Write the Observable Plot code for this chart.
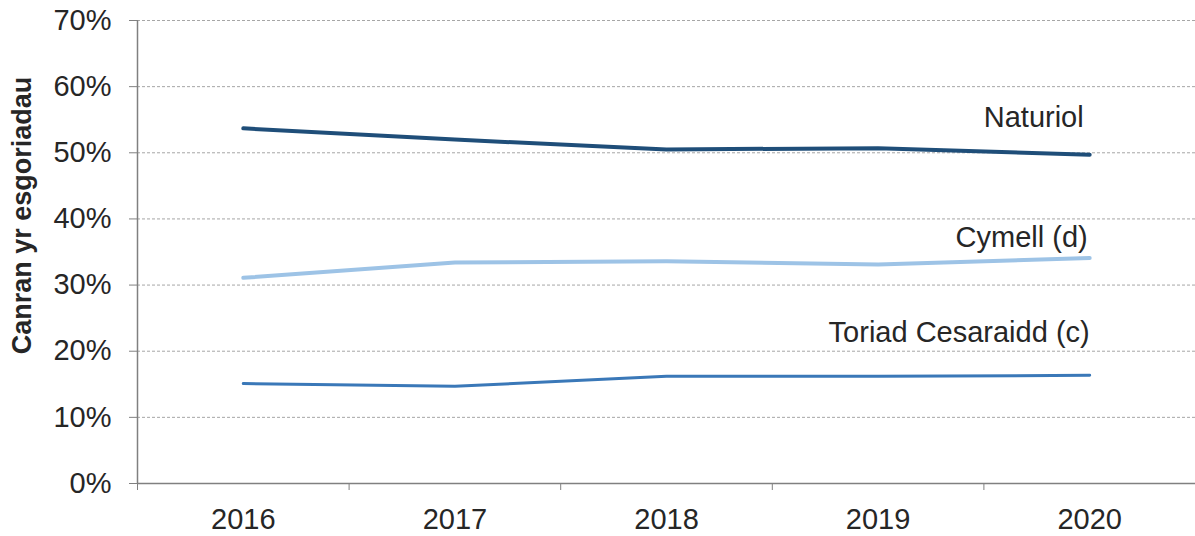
<!DOCTYPE html>
<html>
<head>
<meta charset="utf-8">
<script src="https://cdn.jsdelivr.net/npm/d3@7"></script>
<script src="https://cdn.jsdelivr.net/npm/@observablehq/plot@0.6"></script>
<style>
  html, body { margin: 0; padding: 0; background: #fff; }
  svg { display: block; }
</style>
</head>
<body>
<div id="chart"></div>
<script>
const years = [2016, 2017, 2018, 2019, 2020];
const naturiol = [53.7, 52.0, 50.5, 50.7, 49.7];
const cymell = [31.1, 33.4, 33.6, 33.1, 34.1];
const toriad = [15.1, 14.7, 16.2, 16.2, 16.35];
const seriesNames = ["Naturiol", "Cymell (d)", "Toriad Cesaraidd (c)"];
const yTicks = [0, 10, 20, 30, 40, 50, 60, 70];
const yLabel = "Canran yr esgoriadau";

const seriesValues = [naturiol, cymell, toriad];
const colors = ["#1f4e79", "#9dc3e6", "#3a78b8"];
const widths = [4, 4, 3];
const labelDy = [-37, -20, -43];
const labelDx = [-6, -2, 0];

const rows = seriesNames.flatMap((s, i) => years.map((yr, j) => ({series: s, year: yr, value: seriesValues[i][j]})));
const boundaries = [...years.map(y => y - 0.5), years[years.length - 1] + 0.5];

const marks = [
  Plot.gridY(yTicks.filter(d => d > 0), {stroke: "#a6a6a6", strokeOpacity: 1, strokeDasharray: "3,2", strokeWidth: 1}),
  Plot.axisY({ticks: yTicks, tickFormat: d => d + "%", tickSize: 8, tickPadding: 18, stroke: "#808080", label: null}),
  Plot.axisX({ticks: boundaries, tickFormat: () => "", tickSize: 7, stroke: "#808080", label: null}),
  Plot.axisX({ticks: years, tickFormat: d => String(d), tickSize: 0, tickPadding: 25, label: null}),
  Plot.ruleY([0], {stroke: "#808080", strokeWidth: 1.5}),
  Plot.ruleX([boundaries[0]], {stroke: "#808080", strokeWidth: 1.5}),
  Plot.text([yLabel], {frameAnchor: "top-left", text: d => d, rotate: -90, dx: -115, dy: 195, fontWeight: "bold", fontSize: 27, textAnchor: "middle", lineAnchor: "middle"})
];
seriesNames.forEach((s, i) => {
  const data = rows.filter(r => r.series === s);
  marks.push(Plot.line(data, {x: "year", y: "value", stroke: colors[i], strokeWidth: widths[i], curve: "linear"}));
  const last = data[data.length - 1];
  marks.push(Plot.text([last], {x: "year", y: "value", text: d => d.series, textAnchor: "end", lineAnchor: "middle", dx: labelDx[i], dy: labelDy[i]}));
});

const chart = Plot.plot({
  width: 1195,
  height: 536,
  marginLeft: 137,
  marginRight: 0,
  marginTop: 20,
  marginBottom: 53,
  style: {fontFamily: "'Liberation Sans', Arial, sans-serif", fontSize: "29px", color: "#262626", background: "#fff", overflow: "visible"},
  x: {type: "linear", domain: [boundaries[0], boundaries[boundaries.length - 1]]},
  y: {domain: [0, 70]},
  marks
});
document.getElementById("chart").appendChild(chart);
</script>
</body>
</html>
